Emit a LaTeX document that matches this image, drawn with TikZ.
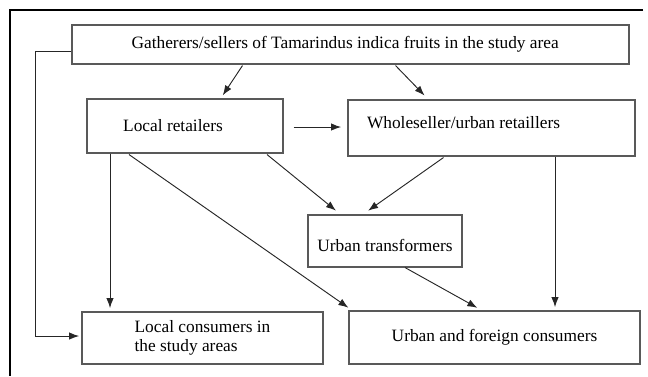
\documentclass[tikz,border=0pt]{standalone}
\usepackage{fontspec}
\setmainfont{Liberation Serif}
\usetikzlibrary{arrows.meta, positioning, calc}

\begin{document}
\begin{tikzpicture}[x=0.75pt, y=-0.75pt,
            box/.style={rectangle, draw=black!65, line width=0.8pt, align=center, font=\fontsize{13}{14}\selectfont, inner sep=2pt},
            arrow/.style={-{Latex[length=7.5pt, width=5.5pt]}, line width=0.7pt, black!85, shorten >=1pt}
        ]
\useasboundingbox (0,0) rectangle (648,376);

% outer frame
            \draw[line width=2.2pt] (643,10) -- (10,10) -- (10,376);

% actors of the chain
            \node[box, minimum width=417.75pt, minimum height=29.25pt] (gath) at (350.5,44.5) {\hspace*{-8pt}Gatherers/sellers of Tamarindus indica fruits in the study area};
            \node[box, minimum width=147pt, minimum height=40.5pt] (locret) at (185,126) {Local retailers\hspace*{18pt}};
            \node[box, minimum width=215.25pt, minimum height=42pt, text depth=8pt] (whole) at (491.5,128) {Wholeseller/urban retaillers\hspace*{42pt}};
            \node[box, minimum width=115.5pt, minimum height=39pt, text height=16pt] (trans) at (385,241) {Urban transformers};

% consumers
            \node[box, minimum width=180.75pt, minimum height=39pt, align=left] (loccons) at (202.5,338) {Local consumers in\\the study areas};
            \node[box, minimum width=218.25pt, minimum height=39.75pt] (urbcons) at (494.5,337.5) {Urban and foreign consumers};

% flows
            \draw[arrow] ($(gath.south)+(-108,1)$) -- ($(locret.north)+(37,-2)$);
            \draw[arrow] ($(gath.south)+(45,1)$) -- ($(whole.north)+(-66,-3)$);
            \draw[arrow] ($(locret.east)+(10,1)$) -- ($(whole.west)+(-5,-1)$);
            \draw[arrow] ($(locret.south)+(82,1)$) -- ($(trans.north)+(-48,-3)$);
            \draw[arrow] ($(whole.south)+(-48,1)$) -- ($(trans.north)+(-18,-3)$);
            \draw[arrow] ($(locret.south)+(-75,0)$) -- ($(loccons.north)+(-92.5,-2)$);
            \draw[arrow] ($(locret.south)+(-56,1)$) -- ($(urbcons.north west)+(1,-2)$);
            \draw[arrow] ($(trans.south)+(20,0)$) -- ($(urbcons.north)+(-16,-2)$);
            \draw[arrow] ($(whole.south)+(63.5,0)$) -- ($(urbcons.north)+(60.5,-2)$);

% direct sale to local consumers
            \coordinate (bend) at (35,51);
            \draw[arrow] ($(gath.west)+(0,6.5)$) -- (bend) |- ($(loccons.west)+(-1,-2)$);

        \end{tikzpicture}
\end{document}
